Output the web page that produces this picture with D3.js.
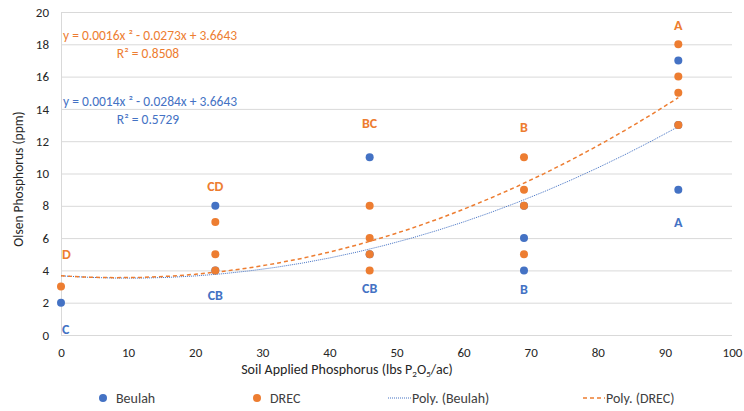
<!DOCTYPE html>
<html lang="en">
<head>
  <meta charset="UTF-8">
  <title>Olsen Phosphorus</title>
  <script src="https://d3js.org/d3.v7.min.js"></script>
  <style>
    body { margin: 0; background: #fff; }
    text { font-family: Carlito, Lato, "Open Sans", sans-serif; fill: #404040; }
    .grid line { stroke: #d9d9d9; stroke-width: 1px; }
    .axis path, .axis line { display: none; }
    .axis text { font-family: Carlito, Lato, sans-serif; font-size: 13px; fill: #262626; }
    .letter { font-size: 14px; font-weight: bold; }
  </style>
</head>
<body>
<svg width="744" height="411" id="chart"></svg>

<script>
  // Beulah points (x = lbs P2O5/ac, y = ppm)
  const beulahX = [0, 23, 23, 46, 46, 69, 69, 69, 92, 92, 92];
  const beulahY = [2, 8, 4, 11, 5, 8, 6, 4, 17, 13, 9];
  // DREC points
  const drecX = [0, 23, 23, 23, 46, 46, 46, 46, 69, 69, 69, 69, 92, 92, 92, 92];
  const drecY = [3, 7, 5, 4, 8, 6, 5, 4, 11, 9, 8, 5, 18, 16, 15, 13];

  // trendline coefficients as printed on the chart [a, b, c] for a*x^2 + b*x + c
  const beulahFit = [0.0014, -0.0284, 3.6643];
  const drecFit = [0.0016, -0.0273, 3.6643];
  const fitXs = [0, 4, 8, 12, 16, 20, 24, 28, 32, 36, 40, 44, 48, 52, 56, 60, 64, 68, 72, 76, 80, 84, 88, 92];

  // significance letters
  const beulahLetters = [
    { x: 0, y: 0.37, t: 'C' }, { x: 23, y: 2.5, t: 'CB' }, { x: 46, y: 2.9, t: 'CB' },
    { x: 69, y: 2.85, t: 'B' }, { x: 92, y: 7.0, t: 'A' }
  ];
  const drecLetters = [
    { x: 0, y: 5.0, t: 'D' }, { x: 23, y: 9.2, t: 'CD' }, { x: 46, y: 13.1, t: 'BC' },
    { x: 69, y: 12.9, t: 'B' }, { x: 92, y: 19.2, t: 'A' }
  ];

  const xTicks = [0, 10, 20, 30, 40, 50, 60, 70, 80, 90, 100];
  const yTicks = [0, 2, 4, 6, 8, 10, 12, 14, 16, 18, 20];

  const blue = '#4472C4', orange = '#ED7D31';
  const plotL = 61, plotR = 732, plotT = 12, plotB = 335;

  const svg = d3.select('#chart');
  const x = d3.scaleLinear().domain([0, 100]).range([plotL, plotR]);
  const y = d3.scaleLinear().domain([0, 20]).range([plotB, plotT]);

  // horizontal gridlines
  svg.append('g').attr('class', 'grid')
    .selectAll('line').data(yTicks).enter().append('line')
    .attr('x1', plotL).attr('x2', plotR)
    .attr('y1', d => y(d) + 0.5).attr('y2', d => y(d) + 0.5);
  svg.append('line').attr('x1', plotL + 0.5).attr('x2', plotL + 0.5)
    .attr('y1', plotT).attr('y2', plotB).attr('stroke', '#d9d9d9');

  svg.append('g').attr('class', 'axis')
    .attr('transform', `translate(0,${plotB + 7})`)
    .call(d3.axisBottom(x).tickValues(xTicks).tickSize(0).tickPadding(6));
  svg.append('g').attr('class', 'axis')
    .attr('transform', `translate(${plotL - 8},0)`)
    .call(d3.axisLeft(y).tickValues(yTicks).tickSize(0).tickPadding(4));

  // axis titles
  const xt = svg.append('text').attr('x', 347).attr('y', 374)
    .attr('text-anchor', 'middle').attr('font-size', 14).style('fill', '#262626');
  xt.append('tspan').text('Soil Applied Phosphorus (lbs P');
  xt.append('tspan').attr('font-size', 9).attr('dy', 3).text('2');
  xt.append('tspan').attr('dy', -3).text('O');
  xt.append('tspan').attr('font-size', 9).attr('dy', 3).text('5');
  xt.append('tspan').attr('dy', -3).text('/ac)');

  svg.append('text')
    .attr('transform', `translate(23,179) rotate(-90)`)
    .attr('text-anchor', 'middle').attr('font-size', 13.5).style('fill', '#262626')
    .text('Olsen Phosphorus (ppm)');

  // trendlines
  const fitLine = c => d3.line()
    .x(d => x(d))
    .y(d => y(c[0] * d * d + c[1] * d + c[2]));
  svg.append('path').datum(fitXs).attr('d', fitLine(beulahFit))
    .attr('fill', 'none').attr('stroke', blue).attr('stroke-width', 1)
    .attr('stroke-dasharray', '1,1');
  svg.append('path').datum(fitXs).attr('d', fitLine(drecFit))
    .attr('fill', 'none').attr('stroke', orange).attr('stroke-width', 1.5)
    .attr('stroke-dasharray', '4,3');

  // points
  svg.append('g').selectAll('circle').data(d3.range(beulahX.length)).enter()
    .append('circle').attr('cx', i => x(beulahX[i])).attr('cy', i => y(beulahY[i]))
    .attr('r', 4).attr('fill', blue);
  svg.append('g').selectAll('circle').data(d3.range(drecX.length)).enter()
    .append('circle').attr('cx', i => x(drecX[i])).attr('cy', i => y(drecY[i]))
    .attr('r', 4).attr('fill', orange);

  // letters
  function drawLetters(data, color) {
    svg.append('g').selectAll('text').data(data).enter().append('text')
      .attr('class', 'letter')
      .attr('x', d => d.x === 0 ? x(d.x) + 1 : x(d.x))
      .attr('y', d => y(d.y))
      .attr('dy', '0.35em')
      .attr('text-anchor', d => d.x === 0 ? 'start' : 'middle')
      .style('fill', color)
      .text(d => d.t);
  }
  drawLetters(beulahLetters, blue);
  drawLetters(drecLetters, orange);

  // equations
  function equation(c, r2, yPos, color) {
    const sign = v => v < 0 ? ' - ' + Math.abs(v) : ' + ' + v;
    svg.append('text').attr('x', 63).attr('y', yPos).attr('dy', '0.35em')
      .attr('font-size', 13.5).style('fill', color)
      .text('y = ' + c[0] + 'x \u00B2' + sign(c[1]) + 'x' + sign(c[2]));
    svg.append('text').attr('x', 148).attr('y', yPos + 18).attr('dy', '0.35em')
      .attr('text-anchor', 'middle').attr('font-size', 13.5).style('fill', color)
      .text('R\u00B2 = ' + r2);
  }
  equation(drecFit, '0.8508', 35, orange);
  equation(beulahFit, '0.5729', 101, blue);

  // legend
  const lg = svg.append('g');
  const legendY = 398;
  lg.append('circle').attr('cx', 103).attr('cy', legendY).attr('r', 4).attr('fill', blue);
  lg.append('text').attr('x', 116).attr('y', legendY).attr('dy', '0.35em').attr('font-size', 14).text('Beulah');
  lg.append('circle').attr('cx', 257).attr('cy', legendY).attr('r', 4).attr('fill', orange);
  lg.append('text').attr('x', 270).attr('y', legendY).attr('dy', '0.35em').attr('font-size', 14).text('DREC');
  lg.append('line').attr('x1', 388).attr('x2', 411).attr('y1', legendY).attr('y2', legendY)
    .attr('stroke', blue).attr('stroke-dasharray', '1,1');
  lg.append('text').attr('x', 412).attr('y', legendY).attr('dy', '0.35em').attr('font-size', 14).text('Poly. (Beulah)');
  lg.append('line').attr('x1', 583).attr('x2', 605).attr('y1', legendY).attr('y2', legendY)
    .attr('stroke', orange).attr('stroke-width', 1.5).attr('stroke-dasharray', '4,3');
  lg.append('text').attr('x', 606).attr('y', legendY).attr('dy', '0.35em').attr('font-size', 14).text('Poly. (DREC)');
</script>
</body>
</html>
